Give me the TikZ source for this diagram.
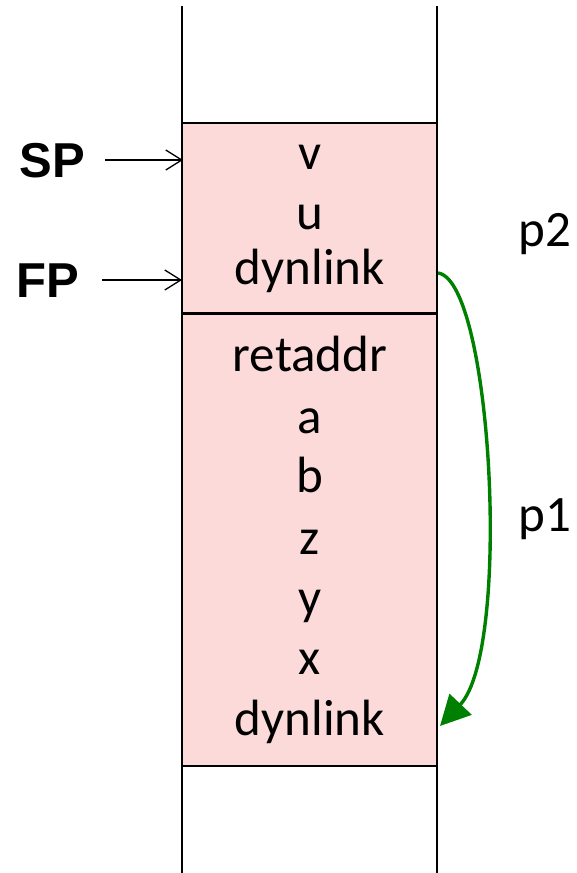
\documentclass[tikz,border=0pt]{standalone}
\usepackage{fontspec}
\setmainfont{Carlito}
\newfontfamily\regfont{Liberation Sans}
\usetikzlibrary{arrows.meta}
\definecolor{framepink}{HTML}{FDDADA}
\definecolor{linkgreen}{HTML}{008000}
\begin{document}
\begin{tikzpicture}[x=1pt,y=-1pt,
  slot/.style={font=\fontsize{51}{54}\selectfont, inner sep=0pt, anchor=base},
  reglabel/.style={font=\regfont\bfseries\fontsize{49}{52}\selectfont, inner sep=0pt, anchor=base},
  ptr/.style={line width=1.3pt, -{Straight Barb[length=16pt,width=20pt,line width=1.3pt]}},
  border/.style={line width=1.6pt}]
\useasboundingbox (0,0) rectangle (577,873);
% stack frames
\fill[framepink] (182,123) rectangle (437,766);
\draw[border] (182,123) -- (437,123);
\draw[border] (182,766) -- (437,766);
\draw[line width=3pt] (182,313) -- (437,313);
% stack walls
\draw[border] (182,6) -- (182,873);
\draw[border] (437,6) -- (437,873);
% slot contents
\node[slot] (v)   at (310,169) {v};
\node[slot] (u)   at (310,229) {u};
\node[slot] (dl2) at (310,284) {dynlink};
\node[slot] (ra)  at (310,371) {retaddr};
\node[slot] (a)   at (310,433) {a};
\node[slot] (b)   at (310,492) {b};
\node[slot] (z)   at (310,554) {z};
\node[slot] (y)   at (310,614) {y};
\node[slot] (x)   at (310,674) {x};
\node[slot] (dl1) at (310,735) {dynlink};
% frame labels
\node[slot] (p2) at (545,246) {p2};
\node[slot] (p1) at (545,531) {p1};
% registers
\node[reglabel] (sp) at (52,177) {SP};
\node[reglabel] (fp) at (48,297) {FP};
\coordinate (spend) at (183,160);
\coordinate (fpend) at (182,280);
\coordinate (spstart) at (105,160);
\coordinate (fpstart) at (102,280);
\draw[ptr] (spstart) -- (spend);
\draw[ptr] (fpstart) -- (fpend);
% dynamic link
\coordinate (linkfrom) at (438,273);
\coordinate (linkto) at (440,726);
\draw[linkgreen, line width=3.4pt, -{Triangle[length=30pt,width=30pt]}]
  (linkfrom) .. controls (492,280) and (512,650) .. (linkto);
\end{tikzpicture}
\end{document}
